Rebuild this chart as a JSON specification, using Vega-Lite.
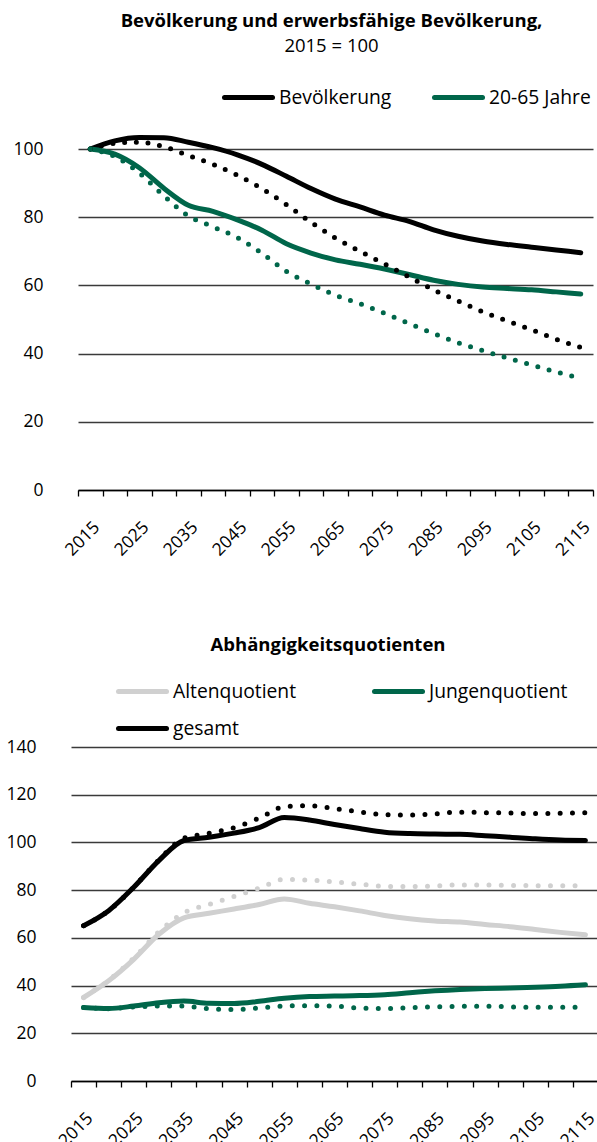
{
"$schema": "https://vega.github.io/schema/vega-lite/v6.json",
"padding": {"left": 5, "top": 12, "right": 0, "bottom": 0},
"spacing": 76,
"resolve": {"scale": {"color": "independent"}, "legend": {"color": "independent"}},
"config": {
  "font": "Open Sans",
  "view": {"stroke": null},
  "title": {"font": "Open Sans", "fontSize": 18.5, "fontWeight": "bold", "color": "#000", "subtitleFont": "Open Sans", "subtitleFontSize": 18.5, "subtitleColor": "#000", "subtitlePadding": 6, "anchor": "middle"},
  "axis": {"labelFont": "Open Sans", "labelFontSize": 17.5, "labelColor": "#000"},
  "axisX": {"title": null, "labelAngle": -45, "tickBand": "extent", "domainColor": "#000", "domainWidth": 1.3, "tickColor": "#000", "tickWidth": 1.3, "tickSize": 6, "labelOverlap": false, "labelPadding": 22, "grid": false, "labelExpr": "datum.value % 10 === 5 ? datum.label : ''"},
  "axisY": {"domain": false, "ticks": false, "gridColor": "#3a3a3a", "gridWidth": 1.3, "labelPadding": 35},
  "legend": {"title": null, "symbolType": "stroke", "symbolSize": 2304, "symbolStrokeWidth": 5, "labelFont": "Open Sans", "labelFontSize": 19.3, "labelColor": "#000", "labelOffset": 4}
},
"datasets": {
"top": [
{"year":2015,"series":"Bevölkerung","style":"solid","value":100},
{"year":2020,"series":"Bevölkerung","style":"solid","value":102.4},
{"year":2025,"series":"Bevölkerung","style":"solid","value":103.4},
{"year":2030,"series":"Bevölkerung","style":"solid","value":103.3},
{"year":2035,"series":"Bevölkerung","style":"solid","value":102},
{"year":2040,"series":"Bevölkerung","style":"solid","value":100.4},
{"year":2045,"series":"Bevölkerung","style":"solid","value":98.3},
{"year":2050,"series":"Bevölkerung","style":"solid","value":95.5},
{"year":2055,"series":"Bevölkerung","style":"solid","value":92},
{"year":2060,"series":"Bevölkerung","style":"solid","value":88.4},
{"year":2065,"series":"Bevölkerung","style":"solid","value":85.3},
{"year":2070,"series":"Bevölkerung","style":"solid","value":83},
{"year":2075,"series":"Bevölkerung","style":"solid","value":80.6},
{"year":2080,"series":"Bevölkerung","style":"solid","value":78.8},
{"year":2085,"series":"Bevölkerung","style":"solid","value":76.3},
{"year":2090,"series":"Bevölkerung","style":"solid","value":74.4},
{"year":2095,"series":"Bevölkerung","style":"solid","value":73},
{"year":2100,"series":"Bevölkerung","style":"solid","value":72},
{"year":2105,"series":"Bevölkerung","style":"solid","value":71.2},
{"year":2110,"series":"Bevölkerung","style":"solid","value":70.4},
{"year":2115,"series":"Bevölkerung","style":"solid","value":69.6},
{"year":2015,"series":"Bevölkerung","style":"dot","value":100},
{"year":2020,"series":"Bevölkerung","style":"dot","value":101.7},
{"year":2025,"series":"Bevölkerung","style":"dot","value":102},
{"year":2030,"series":"Bevölkerung","style":"dot","value":100.7},
{"year":2035,"series":"Bevölkerung","style":"dot","value":98.1},
{"year":2040,"series":"Bevölkerung","style":"dot","value":95.5},
{"year":2045,"series":"Bevölkerung","style":"dot","value":92.3},
{"year":2050,"series":"Bevölkerung","style":"dot","value":88.4},
{"year":2055,"series":"Bevölkerung","style":"dot","value":83.7},
{"year":2060,"series":"Bevölkerung","style":"dot","value":78.5},
{"year":2065,"series":"Bevölkerung","style":"dot","value":73.9},
{"year":2070,"series":"Bevölkerung","style":"dot","value":70},
{"year":2075,"series":"Bevölkerung","style":"dot","value":66.3},
{"year":2080,"series":"Bevölkerung","style":"dot","value":62.5},
{"year":2085,"series":"Bevölkerung","style":"dot","value":58.7},
{"year":2090,"series":"Bevölkerung","style":"dot","value":55.4},
{"year":2095,"series":"Bevölkerung","style":"dot","value":52.3},
{"year":2100,"series":"Bevölkerung","style":"dot","value":49.6},
{"year":2105,"series":"Bevölkerung","style":"dot","value":47},
{"year":2110,"series":"Bevölkerung","style":"dot","value":44.2},
{"year":2115,"series":"Bevölkerung","style":"dot","value":41.8},
{"year":2015,"series":"20-65 Jahre","style":"solid","value":100},
{"year":2020,"series":"20-65 Jahre","style":"solid","value":98.5},
{"year":2025,"series":"20-65 Jahre","style":"solid","value":94.5},
{"year":2030,"series":"20-65 Jahre","style":"solid","value":88.5},
{"year":2035,"series":"20-65 Jahre","style":"solid","value":83.5},
{"year":2040,"series":"20-65 Jahre","style":"solid","value":81.7},
{"year":2045,"series":"20-65 Jahre","style":"solid","value":79.2},
{"year":2050,"series":"20-65 Jahre","style":"solid","value":76.2},
{"year":2055,"series":"20-65 Jahre","style":"solid","value":72.2},
{"year":2060,"series":"20-65 Jahre","style":"solid","value":69.5},
{"year":2065,"series":"20-65 Jahre","style":"solid","value":67.5},
{"year":2070,"series":"20-65 Jahre","style":"solid","value":66.2},
{"year":2075,"series":"20-65 Jahre","style":"solid","value":64.8},
{"year":2080,"series":"20-65 Jahre","style":"solid","value":63.2},
{"year":2085,"series":"20-65 Jahre","style":"solid","value":61.5},
{"year":2090,"series":"20-65 Jahre","style":"solid","value":60.3},
{"year":2095,"series":"20-65 Jahre","style":"solid","value":59.5},
{"year":2100,"series":"20-65 Jahre","style":"solid","value":59.1},
{"year":2105,"series":"20-65 Jahre","style":"solid","value":58.7},
{"year":2110,"series":"20-65 Jahre","style":"solid","value":58.1},
{"year":2115,"series":"20-65 Jahre","style":"solid","value":57.5},
{"year":2015,"series":"20-65 Jahre","style":"dot","value":100},
{"year":2020,"series":"20-65 Jahre","style":"dot","value":97.8},
{"year":2025,"series":"20-65 Jahre","style":"dot","value":93},
{"year":2030,"series":"20-65 Jahre","style":"dot","value":86.3},
{"year":2035,"series":"20-65 Jahre","style":"dot","value":80.4},
{"year":2040,"series":"20-65 Jahre","style":"dot","value":77.2},
{"year":2045,"series":"20-65 Jahre","style":"dot","value":74},
{"year":2050,"series":"20-65 Jahre","style":"dot","value":69.4},
{"year":2055,"series":"20-65 Jahre","style":"dot","value":64.1},
{"year":2060,"series":"20-65 Jahre","style":"dot","value":60.4},
{"year":2065,"series":"20-65 Jahre","style":"dot","value":57.1},
{"year":2070,"series":"20-65 Jahre","style":"dot","value":54.6},
{"year":2075,"series":"20-65 Jahre","style":"dot","value":51.8},
{"year":2080,"series":"20-65 Jahre","style":"dot","value":48.8},
{"year":2085,"series":"20-65 Jahre","style":"dot","value":45.9},
{"year":2090,"series":"20-65 Jahre","style":"dot","value":43.2},
{"year":2095,"series":"20-65 Jahre","style":"dot","value":40.9},
{"year":2100,"series":"20-65 Jahre","style":"dot","value":38.7},
{"year":2105,"series":"20-65 Jahre","style":"dot","value":36.7},
{"year":2110,"series":"20-65 Jahre","style":"dot","value":34.6},
{"year":2115,"series":"20-65 Jahre","style":"dot","value":32.8}
],
"bottom": [
{"year":2015,"series":"Altenquotient","style":"solid","value":35},
{"year":2020,"series":"Altenquotient","style":"solid","value":42},
{"year":2025,"series":"Altenquotient","style":"solid","value":51},
{"year":2030,"series":"Altenquotient","style":"solid","value":61.5},
{"year":2035,"series":"Altenquotient","style":"solid","value":68.4},
{"year":2040,"series":"Altenquotient","style":"solid","value":70.3},
{"year":2045,"series":"Altenquotient","style":"solid","value":72.1},
{"year":2050,"series":"Altenquotient","style":"solid","value":74},
{"year":2055,"series":"Altenquotient","style":"solid","value":76.3},
{"year":2060,"series":"Altenquotient","style":"solid","value":74.5},
{"year":2065,"series":"Altenquotient","style":"solid","value":73},
{"year":2070,"series":"Altenquotient","style":"solid","value":71.3},
{"year":2075,"series":"Altenquotient","style":"solid","value":69.4},
{"year":2080,"series":"Altenquotient","style":"solid","value":68},
{"year":2085,"series":"Altenquotient","style":"solid","value":67.1},
{"year":2090,"series":"Altenquotient","style":"solid","value":66.6},
{"year":2095,"series":"Altenquotient","style":"solid","value":65.6},
{"year":2100,"series":"Altenquotient","style":"solid","value":64.7},
{"year":2105,"series":"Altenquotient","style":"solid","value":63.5},
{"year":2110,"series":"Altenquotient","style":"solid","value":62.3},
{"year":2115,"series":"Altenquotient","style":"solid","value":61.3},
{"year":2015,"series":"Altenquotient","style":"dot","value":35},
{"year":2020,"series":"Altenquotient","style":"dot","value":42.2},
{"year":2025,"series":"Altenquotient","style":"dot","value":51.5},
{"year":2030,"series":"Altenquotient","style":"dot","value":62.5},
{"year":2035,"series":"Altenquotient","style":"dot","value":70.5},
{"year":2040,"series":"Altenquotient","style":"dot","value":74},
{"year":2045,"series":"Altenquotient","style":"dot","value":77.4},
{"year":2050,"series":"Altenquotient","style":"dot","value":80.8},
{"year":2055,"series":"Altenquotient","style":"dot","value":84.5},
{"year":2060,"series":"Altenquotient","style":"dot","value":84.2},
{"year":2065,"series":"Altenquotient","style":"dot","value":83.4},
{"year":2070,"series":"Altenquotient","style":"dot","value":82.5},
{"year":2075,"series":"Altenquotient","style":"dot","value":81.6},
{"year":2080,"series":"Altenquotient","style":"dot","value":81.5},
{"year":2085,"series":"Altenquotient","style":"dot","value":81.7},
{"year":2090,"series":"Altenquotient","style":"dot","value":82.2},
{"year":2095,"series":"Altenquotient","style":"dot","value":82.2},
{"year":2100,"series":"Altenquotient","style":"dot","value":82},
{"year":2105,"series":"Altenquotient","style":"dot","value":81.9},
{"year":2110,"series":"Altenquotient","style":"dot","value":81.8},
{"year":2115,"series":"Altenquotient","style":"dot","value":81.8},
{"year":2015,"series":"Jungenquotient","style":"solid","value":30.8},
{"year":2020,"series":"Jungenquotient","style":"solid","value":30.4},
{"year":2025,"series":"Jungenquotient","style":"solid","value":31.4},
{"year":2030,"series":"Jungenquotient","style":"solid","value":32.8},
{"year":2035,"series":"Jungenquotient","style":"solid","value":33.5},
{"year":2040,"series":"Jungenquotient","style":"solid","value":32.6},
{"year":2045,"series":"Jungenquotient","style":"solid","value":32.5},
{"year":2050,"series":"Jungenquotient","style":"solid","value":33.4},
{"year":2055,"series":"Jungenquotient","style":"solid","value":34.7},
{"year":2060,"series":"Jungenquotient","style":"solid","value":35.4},
{"year":2065,"series":"Jungenquotient","style":"solid","value":35.6},
{"year":2070,"series":"Jungenquotient","style":"solid","value":35.8},
{"year":2075,"series":"Jungenquotient","style":"solid","value":36.2},
{"year":2080,"series":"Jungenquotient","style":"solid","value":37},
{"year":2085,"series":"Jungenquotient","style":"solid","value":37.8},
{"year":2090,"series":"Jungenquotient","style":"solid","value":38.4},
{"year":2095,"series":"Jungenquotient","style":"solid","value":38.8},
{"year":2100,"series":"Jungenquotient","style":"solid","value":39},
{"year":2105,"series":"Jungenquotient","style":"solid","value":39.3},
{"year":2110,"series":"Jungenquotient","style":"solid","value":39.7},
{"year":2115,"series":"Jungenquotient","style":"solid","value":40.3},
{"year":2015,"series":"Jungenquotient","style":"dot","value":30.8},
{"year":2020,"series":"Jungenquotient","style":"dot","value":30.3},
{"year":2025,"series":"Jungenquotient","style":"dot","value":31},
{"year":2030,"series":"Jungenquotient","style":"dot","value":31.4},
{"year":2035,"series":"Jungenquotient","style":"dot","value":31.4},
{"year":2040,"series":"Jungenquotient","style":"dot","value":30.3},
{"year":2045,"series":"Jungenquotient","style":"dot","value":30},
{"year":2050,"series":"Jungenquotient","style":"dot","value":30.6},
{"year":2055,"series":"Jungenquotient","style":"dot","value":31.4},
{"year":2060,"series":"Jungenquotient","style":"dot","value":31.6},
{"year":2065,"series":"Jungenquotient","style":"dot","value":31.4},
{"year":2070,"series":"Jungenquotient","style":"dot","value":30.6},
{"year":2075,"series":"Jungenquotient","style":"dot","value":30.4},
{"year":2080,"series":"Jungenquotient","style":"dot","value":30.7},
{"year":2085,"series":"Jungenquotient","style":"dot","value":31.1},
{"year":2090,"series":"Jungenquotient","style":"dot","value":31.3},
{"year":2095,"series":"Jungenquotient","style":"dot","value":31.3},
{"year":2100,"series":"Jungenquotient","style":"dot","value":31.1},
{"year":2105,"series":"Jungenquotient","style":"dot","value":30.9},
{"year":2110,"series":"Jungenquotient","style":"dot","value":30.9},
{"year":2115,"series":"Jungenquotient","style":"dot","value":31},
{"year":2015,"series":"gesamt","style":"solid","value":65.1},
{"year":2020,"series":"gesamt","style":"solid","value":71.4},
{"year":2025,"series":"gesamt","style":"solid","value":81.2},
{"year":2030,"series":"gesamt","style":"solid","value":92.4},
{"year":2035,"series":"gesamt","style":"solid","value":100.8},
{"year":2040,"series":"gesamt","style":"solid","value":102.2},
{"year":2045,"series":"gesamt","style":"solid","value":103.9},
{"year":2050,"series":"gesamt","style":"solid","value":106.2},
{"year":2055,"series":"gesamt","style":"solid","value":110.4},
{"year":2060,"series":"gesamt","style":"solid","value":109.4},
{"year":2065,"series":"gesamt","style":"solid","value":107.5},
{"year":2070,"series":"gesamt","style":"solid","value":105.8},
{"year":2075,"series":"gesamt","style":"solid","value":104.3},
{"year":2080,"series":"gesamt","style":"solid","value":103.7},
{"year":2085,"series":"gesamt","style":"solid","value":103.5},
{"year":2090,"series":"gesamt","style":"solid","value":103.4},
{"year":2095,"series":"gesamt","style":"solid","value":102.8},
{"year":2100,"series":"gesamt","style":"solid","value":102.2},
{"year":2105,"series":"gesamt","style":"solid","value":101.5},
{"year":2110,"series":"gesamt","style":"solid","value":101},
{"year":2115,"series":"gesamt","style":"solid","value":100.8},
{"year":2015,"series":"gesamt","style":"dot","value":65.1},
{"year":2020,"series":"gesamt","style":"dot","value":71.4},
{"year":2025,"series":"gesamt","style":"dot","value":81.3},
{"year":2030,"series":"gesamt","style":"dot","value":92.6},
{"year":2035,"series":"gesamt","style":"dot","value":101.8},
{"year":2040,"series":"gesamt","style":"dot","value":103.8},
{"year":2045,"series":"gesamt","style":"dot","value":106.2},
{"year":2050,"series":"gesamt","style":"dot","value":110.2},
{"year":2055,"series":"gesamt","style":"dot","value":115},
{"year":2060,"series":"gesamt","style":"dot","value":115.4},
{"year":2065,"series":"gesamt","style":"dot","value":114.2},
{"year":2070,"series":"gesamt","style":"dot","value":112.8},
{"year":2075,"series":"gesamt","style":"dot","value":111.6},
{"year":2080,"series":"gesamt","style":"dot","value":111.5},
{"year":2085,"series":"gesamt","style":"dot","value":112},
{"year":2090,"series":"gesamt","style":"dot","value":112.7},
{"year":2095,"series":"gesamt","style":"dot","value":112.5},
{"year":2100,"series":"gesamt","style":"dot","value":112.3},
{"year":2105,"series":"gesamt","style":"dot","value":112.1},
{"year":2110,"series":"gesamt","style":"dot","value":112.2},
{"year":2115,"series":"gesamt","style":"dot","value":112.4}
]
},
"vconcat": [
 {
  "width": 515,
  "height": 341,
  "data": {"name": "top"},
  "title": {"text": "Bevölkerung und erwerbsfähige Bevölkerung,", "subtitle": "2015 = 100", "dx": -4, "offset": 16},
  "encoding": {
    "x": {"field": "year", "type": "ordinal", "bandPosition": 0.5, "scale": {"type": "band", "paddingInner": 0, "paddingOuter": 0}},
    "y": {"field": "value", "type": "quantitative", "scale": {"domain": [0, 100], "nice": false}, "axis": {"values": [0, 20, 40, 60, 80, 100], "title": null}},
    "color": {"field": "series", "type": "nominal", "scale": {"domain": ["Bevölkerung", "20-65 Jahre"], "range": ["#000000", "#00664A"]},
      "legend": {"orient": "none", "legendX": 144, "legendY": -78, "direction": "horizontal", "columnPadding": 32,
        "encode": {"symbols": {"update": {"stroke": {"signal": "datum.value === 'Bevölkerung' ? '#555555' : '#00664A'"}, "strokeCap": {"value": "round"}}}}}}
  },
  "layer": [
    {"transform": [{"filter": "datum.style === 'solid'"}], "mark": {"type": "line", "strokeWidth": 5, "interpolate": "monotone", "strokeCap": "round", "strokeJoin": "round"}},
    {"transform": [{"filter": "datum.style === 'dot'"}], "mark": {"type": "line", "strokeWidth": 5, "interpolate": "monotone", "strokeCap": "round", "strokeDash": [0, 11.7]}}
  ]
 },
 {
  "width": 520,
  "height": 334,
  "data": {"name": "bottom"},
  "title": {"text": "Abhängigkeitsquotienten", "dx": -10, "offset": 11},
  "encoding": {
    "x": {"field": "year", "type": "ordinal", "bandPosition": 0.5, "scale": {"type": "band", "paddingInner": 0, "paddingOuter": 0, "range": [-7, 520]}},
    "y": {"field": "value", "type": "quantitative", "scale": {"domain": [0, 140], "nice": false}, "axis": {"values": [0, 20, 40, 60, 80, 100, 120, 140], "title": null, "labelPadding": 42}},
    "color": {"field": "series", "type": "nominal", "scale": {"domain": ["Altenquotient", "Jungenquotient", "gesamt"], "range": ["#D0D0D0", "#00664A", "#000000"]},
      "legend": {"orient": "none", "legendX": 38, "legendY": -82, "direction": "horizontal", "columns": 2, "columnPadding": 67, "rowPadding": -10,
        "encode": {"symbols": {"update": {"stroke": {"signal": "datum.value === 'gesamt' ? '#555555' : datum.value === 'Altenquotient' ? '#BFBFBF' : '#00664A'"}, "strokeCap": {"value": "round"}}}}}}
  },
  "layer": [
    {"transform": [{"filter": "datum.style === 'solid'"}], "mark": {"type": "line", "strokeWidth": 5, "interpolate": "monotone", "strokeCap": "round", "strokeJoin": "round"}},
    {"transform": [{"filter": "datum.style === 'dot'"}], "mark": {"type": "line", "strokeWidth": 5, "interpolate": "monotone", "strokeCap": "round", "strokeDash": [0, 12.3]}}
  ]
 }
]
}
